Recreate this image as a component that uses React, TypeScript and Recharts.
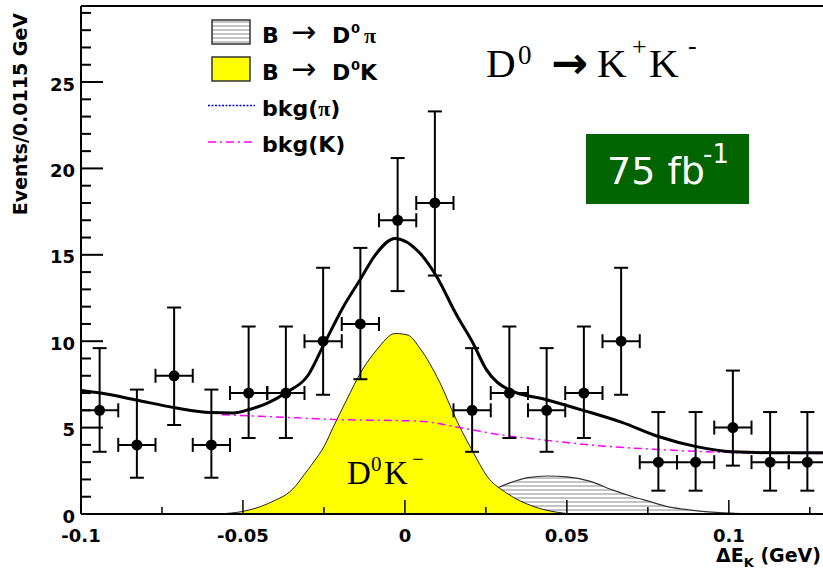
import React from "react";
import {
  ComposedChart, XAxis, YAxis, Line, Area, Scatter, ErrorBar, ReferenceLine,
} from "recharts";

// measured bins: width 0.0115 GeV
const binCenters = [
  -0.09425, -0.08275, -0.07125, -0.05975, -0.04825, -0.03675, -0.02525, -0.01375, -0.00225, 0.00925,
  0.02075, 0.03225, 0.04375, 0.05525, 0.06675, 0.07825, 0.08975, 0.10125, 0.11275, 0.12425,
];
const binHalfWidth = 0.00575;
const counts = [6, 4, 8, 4, 7, 7, 10, 11, 17, 18, 6, 7, 6, 7, 10, 3, 3, 5, 3, 3];
const errLow = [2.4, 1.9, 2.85, 1.9, 2.6, 2.6, 3.1, 3.2, 4.1, 4.2, 2.4, 2.6, 2.4, 2.6, 3.1, 1.65, 1.65, 2.2, 1.65, 1.65];
const errHigh = [3.6, 3.2, 3.95, 3.2, 3.85, 3.85, 4.25, 4.4, 3.6, 5.3, 3.6, 3.85, 3.6, 3.85, 4.25, 2.9, 2.9, 3.3, 2.9, 2.9];

// total fit
const totalX = [
  -0.1, -0.094, -0.083, -0.071, -0.06, -0.053, -0.048, -0.0426, -0.0365, -0.03, -0.0253, -0.019, -0.0137,
  -0.0095, -0.003, 0.0046, 0.0096, 0.016, 0.021, 0.025, 0.032, 0.044, 0.055, 0.067, 0.078, 0.09, 0.101, 0.113, 0.13,
];
const totalY = [
  7.15, 7.0, 6.6, 6.15, 5.87, 5.85, 6.05, 6.4, 7.05, 8.0, 9.7, 12.0, 13.6,
  14.9, 15.95, 15.1, 13.8, 11.5, 9.9, 8.4, 7.2, 6.6, 6.0, 5.3, 4.5, 3.9, 3.6, 3.55, 3.55,
];

// B -> D0 K signal
const signalX = [
  -0.058, -0.054, -0.05, -0.045, -0.04, -0.0365, -0.0346, -0.031, -0.0284, -0.0247, -0.0222, -0.018, -0.0133,
  -0.0087, -0.003, 0.001, 0.0046, 0.0108, 0.016, 0.021, 0.0253, 0.0315, 0.0395, 0.047, 0.052,
];
const signalY = [
  0, 0.05, 0.15, 0.4, 0.8, 1.15, 1.45, 2.3, 2.95, 4.0, 5.0, 6.6, 8.3,
  9.5, 10.45, 10.35, 9.6, 7.6, 5.4, 3.6, 2.2, 1.2, 0.45, 0.1, 0,
];

// B -> D0 pi feed-across
const dpiX = [0.01, 0.02, 0.029, 0.0324, 0.038, 0.044, 0.05, 0.057, 0.064, 0.0704, 0.076, 0.081, 0.086, 0.091, 0.096, 0.101, 0.105];
const dpiY = [0.1, 0.7, 1.55, 1.8, 2.1, 2.2, 2.15, 1.9, 1.4, 1.0, 0.7, 0.43, 0.28, 0.17, 0.09, 0.05, 0];

// backgrounds
const bkgKX = [-0.0565, -0.04, -0.022, 0.0046, 0.017, 0.029, 0.044, 0.06, 0.0756, 0.091, 0.1025, 0.13];
const bkgKY = [5.75, 5.62, 5.47, 5.37, 5.0, 4.6, 4.26, 3.95, 3.76, 3.62, 3.55, 3.5];
const bkgPiX = [-0.1, 0.13];
const bkgPiY = [0, 0];

const yTicks = [0, 1, 2, 3, 4, 5, 6, 7, 8, 9, 10, 11, 12, 13, 14, 15, 16, 17, 18, 19, 20, 21, 22, 23, 24, 25, 26, 27, 28, 29];
const xTicks = [-0.1, -0.075, -0.05, -0.025, 0, 0.025, 0.05, 0.075, 0.1, 0.125];
const xMajor = [-0.1, -0.05, 0, 0.05, 0.1];

const Y_MAX = 29.4;
const PLOT_LEFT = 81;
const PLOT_BOTTOM = 514;
const labelFont = "'DejaVu Sans', sans-serif";
const serif = "'Liberation Serif', 'Times New Roman', serif";

const toXY = (xs: number[], ys: number[]) => xs.map((x, i) => ({ x, y: ys[i] }));

const points = binCenters.map((x, i) => ({
  x,
  y: counts[i],
  xErr: binHalfWidth,
  yErr: [errLow[i], errHigh[i]],
}));

function YTick(props: any) {
  const { y, payload } = props;
  const v = payload.value;
  const major = v % 5 === 0;
  return (
    <g>
      <line x1={PLOT_LEFT} x2={PLOT_LEFT + (major ? 22 : 10)} y1={y} y2={y} stroke="#000" strokeWidth={2} />
      {major && (
        <text x={PLOT_LEFT - 6} y={y + 8.5} textAnchor="end" fontFamily={labelFont} fontWeight="bold" fontSize={18} fill="#000">
          {v}
        </text>
      )}
    </g>
  );
}

function XTick(props: any) {
  const { x, payload } = props;
  const v = payload.value;
  const major = xMajor.some((m) => Math.abs(m - v) < 1e-9);
  return (
    <g>
      <line x1={x} x2={x} y1={PLOT_BOTTOM} y2={PLOT_BOTTOM - (major ? 14 : 7)} stroke="#000" strokeWidth={1.5} />
      {major && (
        <text x={x} y={542} textAnchor="middle" fontFamily={labelFont} fontWeight="bold" fontSize={18} fill="#000">
          {v === 0 ? "0" : String(v)}
        </text>
      )}
    </g>
  );
}

function Overlay() {
  return (
    <svg width={823} height={569} style={{ position: "absolute", left: 0, top: 0, pointerEvents: "none" }}>
      <defs>
        <pattern id="legHatch" width="8" height="4" patternUnits="userSpaceOnUse">
          <line x1="0" y1="2" x2="8" y2="2" stroke="#888" strokeWidth="1" />
        </pattern>
      </defs>
      {/* y title */}
      <text transform="rotate(-90)" x={-13} y={27} textAnchor="end" fontFamily={labelFont} fontWeight="bold" fontSize={19} fill="#000">
        Events/0.0115 GeV
      </text>
      {/* x title */}
      <text x={716} y={562} fontFamily={labelFont} fontWeight="bold" fontSize={19} fill="#000">
        ΔE<tspan dy={5} fontSize={13}>K</tspan><tspan dy={-5}> (GeV)</tspan>
      </text>

      {/* legend */}
      <rect x={212} y={20} width={38} height={24} fill="url(#legHatch)" stroke="#333" strokeWidth={1.5} />
      <rect x={212} y={57} width={38} height={24} fill="#ffff00" stroke="#333" strokeWidth={1.5} />
      <line x1={208} x2={255} y1={105.5} y2={105.5} stroke="#0000ff" strokeWidth={1.5} strokeDasharray="2 1.5" />
      <line x1={208} x2={252} y1={142} y2={142} stroke="#ff00ff" strokeWidth={1.5} strokeDasharray="8 4 2 4" />
      <g fontFamily={labelFont} fontWeight="bold" fontSize={22} fill="#000">
        <text x={262} y={43}>B</text>
        <text x={291} y={42} fontWeight="normal" fontSize={30}>→</text>
        <text x={332} y={43}>D</text>
        <text x={351} y={33} fontSize={13}>0</text>
        <text x={364} y={43} fontFamily={serif}>π</text>
        <text x={262} y={80}>B</text>
        <text x={291} y={79} fontWeight="normal" fontSize={30}>→</text>
        <text x={332} y={80}>D</text>
        <text x={351} y={70} fontSize={13}>0</text>
        <text x={360} y={80}>K</text>
        <text x={262} y={116}>bkg(<tspan fontFamily={serif}>π</tspan>)</text>
        <text x={262} y={152}>bkg(K)</text>
      </g>

      {/* title */}
      <g fontFamily={serif} fill="#000">
        <text x={486} y={77} fontSize={41}>D</text>
        <text x={518} y={64} fontSize={27}>0</text>
        <text x={551} y={78} fontSize={44} fontFamily={labelFont} fontWeight="bold">→</text>
        <text x={597} y={77} fontSize={41}>K</text>
        <text x={632} y={55} fontSize={26}>+</text>
        <text x={649} y={77} fontSize={41}>K</text>
        <text x={688} y={54} fontSize={26}>-</text>
      </g>

      {/* luminosity */}
      <rect x={586} y={134} width={163} height={70} fill="#006400" />
      <text x={607} y={184} fontFamily={labelFont} fontSize={38} fill="#fff">75 fb</text>
      <text x={703} y={163} fontFamily={labelFont} fontSize={26} fill="#fff">-1</text>

      {/* signal label */}
      <g fontFamily={serif} fill="#000">
        <text x={347} y={484} fontSize={33}>D</text>
        <text x={371} y={471} fontSize={21}>0</text>
        <text x={384} y={484} fontSize={33}>K</text>
        <text x={412} y={466} fontSize={21}>−</text>
      </g>
    </svg>
  );
}

export default function App() {
  return (
    <div style={{ position: "absolute", left: 0, top: 0, width: 823, height: 569, overflow: "hidden", background: "#fff" }}>
      <ComposedChart width={830} height={569} margin={{ top: 6, right: 4, bottom: 0, left: 0 }}>
        <defs>
          <pattern id="hatchDpi" width="8" height="4" patternUnits="userSpaceOnUse">
            <line x1="0" y1="2" x2="8" y2="2" stroke="#888" strokeWidth="1" />
          </pattern>
        </defs>
        <XAxis
          type="number"
          dataKey="x"
          domain={[-0.1, 0.13]}
          allowDataOverflow
          ticks={xTicks}
          interval={0}
          height={55}
          axisLine={{ stroke: "#000", strokeWidth: 2 }}
          tickLine={false}
          tick={(p: any) => <XTick {...p} />}
        />
        <YAxis
          type="number"
          dataKey="y"
          domain={[0, Y_MAX]}
          allowDataOverflow
          ticks={yTicks}
          interval={0}
          width={81}
          axisLine={{ stroke: "#000", strokeWidth: 2 }}
          tickLine={false}
          tick={(p: any) => <YTick {...p} />}
        />
        <ReferenceLine y={Y_MAX} stroke="#000" strokeWidth={2} />
        <Area
          data={toXY(dpiX, dpiY)}
          dataKey="y"
          type="monotone"
          fill="url(#hatchDpi)"
          fillOpacity={1}
          stroke="#333"
          strokeWidth={1.2}
          dot={false}
          isAnimationActive={false}
        />
        <Area
          data={toXY(signalX, signalY)}
          dataKey="y"
          type="monotone"
          fill="#ffff00"
          fillOpacity={1}
          stroke="#222"
          strokeWidth={1}
          dot={false}
          isAnimationActive={false}
        />
        <Line
          data={toXY(bkgPiX, bkgPiY)}
          dataKey="y"
          type="linear"
          stroke="#0000ff"
          strokeWidth={1.5}
          strokeDasharray="2 1.5"
          dot={false}
          isAnimationActive={false}
        />
        <Line
          data={toXY(bkgKX, bkgKY)}
          dataKey="y"
          type="monotone"
          stroke="#ff00ff"
          strokeWidth={1.5}
          strokeDasharray="8 4 2 4"
          dot={false}
          isAnimationActive={false}
        />
        <Line
          data={toXY(totalX, totalY)}
          dataKey="y"
          type="monotone"
          stroke="#000"
          strokeWidth={3}
          dot={false}
          isAnimationActive={false}
        />
        <Scatter
          data={points}
          dataKey="y"
          isAnimationActive={false}
          shape={(p: any) => <circle cx={p.cx} cy={p.cy} r={5.5} fill="#000" />}
        >
          <ErrorBar dataKey="xErr" direction="x" width={7} stroke="#000" strokeWidth={2} isAnimationActive={false} />
          <ErrorBar dataKey="yErr" direction="y" width={7} stroke="#000" strokeWidth={2} isAnimationActive={false} />
        </Scatter>
      </ComposedChart>
      <Overlay />
    </div>
  );
}
